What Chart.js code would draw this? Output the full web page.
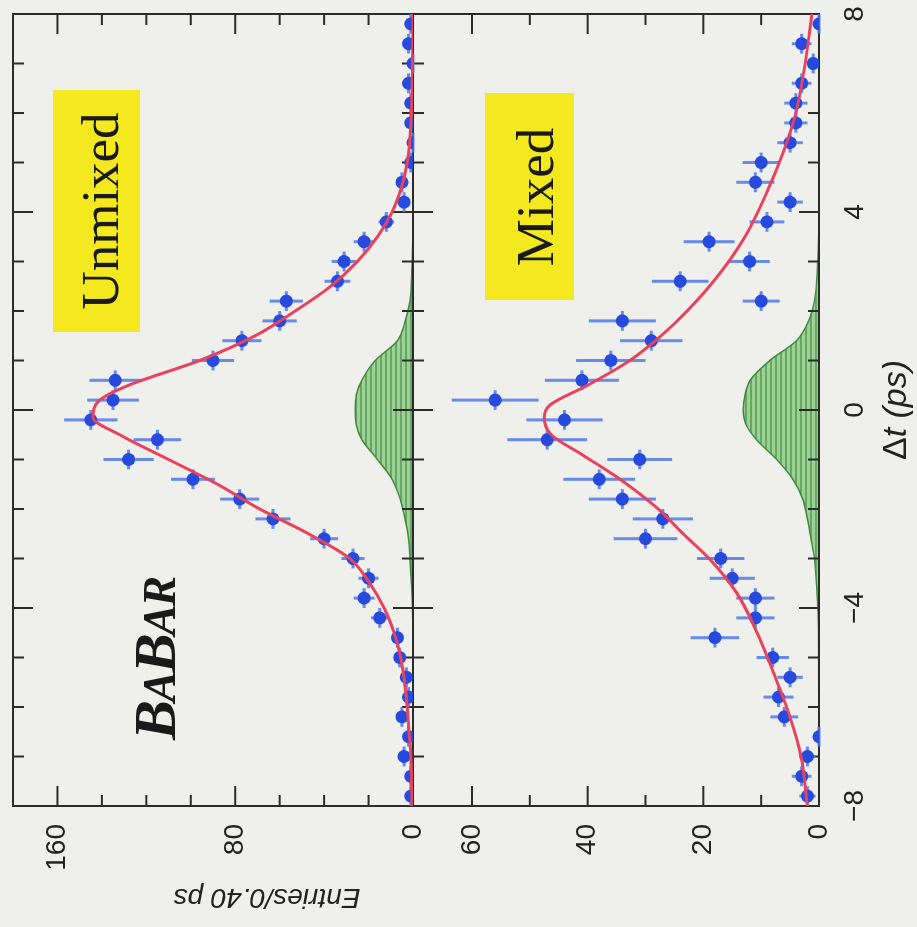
<!DOCTYPE html>
<html>
<head>
<meta charset="utf-8">
<script src="https://cdn.jsdelivr.net/npm/chart.js@4"></script>
<style>
  html, body { margin: 0; padding: 0; background: #efefeb; overflow: hidden; }
  /* the figure is drawn upright and then turned a quarter turn, like the scan */
  #wrap { position: absolute; left: 0; top: 0; width: 927px; height: 917px;
          transform-origin: 0 0; transform: translate(0, 927px) rotate(-90deg); }
</style>
</head>
<body>
<div id="wrap"><canvas id="c" width="927" height="917"></canvas></div>
<script>
// Δt bin centres (0.40 ps bins)
const dtBins = [-7.8, -7.4, -7.0, -6.6, -6.2, -5.8, -5.4, -5.0, -4.6, -4.2,
                -3.8, -3.4, -3.0, -2.6, -2.2, -1.8, -1.4, -1.0, -0.6, -0.2,
                 0.2,  0.6,  1.0,  1.4,  1.8,  2.2,  2.6,  3.0,  3.4,  3.8,
                 4.2,  4.6,  5.0,  5.4,  5.8,  6.2,  6.6,  7.0,  7.4,  7.8];

// unmixed events per bin and errors
const unmixedCounts = [1, 1, 4, 2, 5, 2, 3, 6, 7, 15,
                       22, 20, 27, 40, 63, 78, 99, 128, 115, 145,
                       135, 134, 90, 77, 60, 57, 34, 31, 22, 12,
                       4, 5, 1, 0, 1, 1, 2, 0, 2, 1];
const unmixedErr = [1, 1, 2, 1.4, 2.2, 1.4, 1.7, 2.4, 2.6, 3.9,
                    4.7, 4.5, 5.2, 6.3, 7.9, 8.8, 9.9, 11.3, 10.7, 12,
                    11.6, 11.6, 9.5, 8.8, 7.7, 7.5, 5.8, 5.6, 4.7, 3.5,
                    2, 2.2, 1, 0, 1, 1, 1.4, 0, 1.4, 1];

// mixed events per bin and errors
const mixedCounts = [2, 3, 2, 0, 6, 7, 5, 8, 18, 11,
                     11, 15, 17, 30, 27, 34, 38, 31, 47, 44,
                     56, 41, 36, 29, 34, 10, 24, 12, 19, 9,
                     5, 11, 10, 5, 4, 4, 3, 1, 3, 0];
const mixedErr = [1.4, 1.7, 1.4, 0, 2.4, 2.6, 2.2, 2.8, 4.2, 3.3,
                  3.3, 3.9, 4.1, 5.5, 5.2, 5.8, 6.2, 5.6, 6.9, 6.6,
                  7.5, 6.4, 6, 5.4, 5.8, 3.2, 4.9, 3.5, 4.4, 3,
                  2.2, 3.3, 3.2, 2.2, 2, 2, 1.7, 1, 1.7, 0];

// fit curves (red)
const fitDtUp = [-8, -7, -6.5, -6, -5.5, -5, -4.5, -4, -3.5, -3, -2.5, -2, -1.5, -1, -0.5, -0.15,
                 0.2, 0.5, 1, 1.5, 2, 2.5, 3, 3.5, 4, 4.5, 5, 5.5, 6, 7, 8];
const fitUp = [0.4, 1, 1.8, 2.6, 3.8, 5.5, 8.5, 13, 19.5, 28.5, 47, 69, 88, 110, 132, 144,
               141, 128, 96, 71, 53, 37, 25, 16, 9.4, 5.2, 2.6, 1.3, 0.7, 0.2, 0];
const fitDtLow = [-8, -7, -6, -5.3, -4.5, -3.7, -3, -2.5, -2, -1.35, -0.9, -0.5, -0.15,
                  0.1, 0.5, 1, 1.5, 2, 2.75, 3.5, 4.4, 5.2, 6, 7, 8];
const fitLow = [2, 3.1, 5.6, 7.9, 10.7, 14.2, 19, 23.5, 27.8, 35, 41, 46.3, 47.5,
                46.5, 40, 32.7, 27.3, 22.8, 17.2, 12.8, 9, 6.2, 4, 2.4, 1.2];

// background component (green)
const bgDt = [-8, -4.4, -3.6, -3.0, -2.6, -2.2, -1.8, -1.4, -1.0, -0.6, -0.3, 0,
              0.3, 0.6, 1.0, 1.4, 1.8, 2.2, 2.8, 3.6, 8];
const bgUp = [0, 0.1, 0.6, 1.3, 2.0, 3.6, 5.8, 9.4, 16, 23, 25.5, 26,
              25.5, 23, 17, 7, 3.5, 1.4, 0.6, 0.1, 0];
const bgLow = [0, 0.1, 0.4, 0.8, 1.4, 2.0, 2.8, 4.5, 7.3, 10.8, 12.6, 13.1,
               12.8, 11.9, 8.5, 3.9, 1.8, 0.8, 0.3, 0.05, 0];

// axis ticks with labels
const dtLabels = [-8, -4, 0, 4, 8];
const upLabels = [0, 80, 160];
const lowLabels = [0, 20, 40, 60];
const BIN_HALF = 0.2;

const pts = (xs, ys) => xs.map((x, i) => ({ x: x, y: ys[i] }));

// striped green fill
function stripes() {
  const p = document.createElement('canvas');
  p.width = 8; p.height = 5;
  const g = p.getContext('2d');
  g.fillStyle = '#9dd197'; g.fillRect(0, 0, 8, 5);
  g.fillStyle = '#66a862'; g.fillRect(0, 0, 8, 2);
  return document.getElementById('c').getContext('2d').createPattern(p, 'repeat');
}
const greenFill = stripes();

const serif = "'Liberation Serif', 'DejaVu Serif', serif";
const sans = "'Liberation Sans', Arial, sans-serif";

function line(ctx, x1, y1, x2, y2) {
  ctx.beginPath(); ctx.moveTo(x1, y1); ctx.lineTo(x2, y2); ctx.stroke();
}

function drawFrame(chart) {
  const ctx = chart.ctx, a = chart.chartArea;
  const x = chart.scales.x, yu = chart.scales.yUp, yl = chart.scales.yLow;
  const mid = yu.bottom;
  ctx.save();
  ctx.strokeStyle = '#2b2b2b';
  ctx.lineWidth = 2;
  ctx.strokeRect(a.left, a.top, a.width, a.height);
  line(ctx, a.left, mid, a.right, mid);
  for (let v = -7; v <= 7; v++) {
    const px = x.getPixelForValue(v), L = v % 4 === 0 ? 20 : 11;
    line(ctx, px, a.top, px, a.top + L);
    line(ctx, px, mid - L, px, mid + L);
    line(ctx, px, a.bottom, px, a.bottom - L);
  }
  for (let v = 20; v <= 160; v += 20) {
    const py = yu.getPixelForValue(v), L = v % 80 === 0 ? 20 : 11;
    line(ctx, a.left, py, a.left + L, py);
    line(ctx, a.right, py, a.right - L, py);
  }
  for (let v = 10; v <= 60; v += 10) {
    const py = yl.getPixelForValue(v), L = v % 20 === 0 ? 20 : 11;
    line(ctx, a.left, py, a.left + L, py);
    line(ctx, a.right, py, a.right - L, py);
  }
  ctx.restore();
}

function drawErrors(chart, ds) {
  const ctx = chart.ctx, x = chart.scales.x, y = chart.scales[ds.yAxisID];
  ctx.save();
  ctx.strokeStyle = 'rgba(80,120,232,0.85)';
  ctx.lineWidth = 3;
  ds.data.forEach((p, i) => {
    const e = ds.errs[i];
    const px = x.getPixelForValue(p.x), py = y.getPixelForValue(p.y);
    if (e > 0) line(ctx, px, y.getPixelForValue(Math.max(0, p.y - e)), px, y.getPixelForValue(p.y + e));
    line(ctx, x.getPixelForValue(p.x - BIN_HALF), py, x.getPixelForValue(p.x + BIN_HALF), py);
  });
  ctx.restore();
}

const decor = {
  id: 'decor',
  beforeDraw(chart) { chart.$frameDone = false; },
  beforeDatasetsDraw(chart) {
    const ctx = chart.ctx;
    ctx.save();
    // yellow labels
    ctx.fillStyle = '#f4e91f';
    ctx.fillRect(595, 53, 242, 87);
    ctx.fillRect(627, 485, 207, 89);
    ctx.fillStyle = '#1a1a1a';
    ctx.textAlign = 'center';
    ctx.textBaseline = 'alphabetic';
    ctx.font = '53px ' + serif;
    ctx.fillText('Unmixed', 716, 118);
    ctx.fillText('Mixed', 730, 553);
    // BaBar logo, small caps
    ctx.textAlign = 'left';
    let cx = 187;
    [['B', 60], ['A', 46], ['B', 60], ['A', 46], ['R', 46]].forEach(([ch, sz]) => {
      ctx.font = 'italic bold ' + sz + 'px ' + serif;
      ctx.fillText(ch, cx, 175);
      cx += ctx.measureText(ch).width - 2;
    });
    ctx.restore();
  },
  beforeDatasetDraw(chart, args) {
    const ds = chart.data.datasets[args.index];
    if (ds.errs) {
      if (!chart.$frameDone) { drawFrame(chart); chart.$frameDone = true; }
      drawErrors(chart, ds);
    }
  },
  afterDraw(chart) {
    const ctx = chart.ctx, a = chart.chartArea;
    ctx.save();
    ctx.fillStyle = '#222';
    // y title
    ctx.translate(38, 267);
    ctx.rotate(-Math.PI / 2);
    ctx.textAlign = 'center';
    ctx.font = 'italic 28px ' + sans;
    ctx.fillText('Entries/0.40 ps', 0, 0);
    ctx.restore();
    // x title: upright delta, italic rest
    ctx.save();
    ctx.fillStyle = '#222';
    ctx.textBaseline = 'alphabetic';
    const f1 = '34px ' + sans, f2 = 'italic 34px ' + sans;
    ctx.font = f1; const w1 = ctx.measureText('\u0394').width;
    ctx.font = f2; const w2 = ctx.measureText('t (ps)').width;
    let sx = (a.left + a.right) / 2 - (w1 + w2) / 2;
    ctx.font = f1; ctx.fillText('\u0394', sx, 906);
    ctx.font = f2; ctx.fillText('t (ps)', sx + w1, 906);
    ctx.restore();
  }
};

const tickFont = { family: sans, size: 28 };

// fixed axis boxes so the plot frame lands where the scan has it
function fixY(s) { s.width = 121; s.paddingTop = 0; s.paddingBottom = 0; }
function fixX(s) { s.height = 98; s.paddingLeft = 0; s.paddingRight = 0; }

new Chart(document.getElementById('c'), {
  type: 'scatter',
  data: {
    datasets: [
      { label: 'bg unmixed', data: pts(bgDt, bgUp), yAxisID: 'yUp', showLine: true,
        cubicInterpolationMode: 'monotone', pointRadius: 0, borderColor: '#3d8a3d', borderWidth: 1.5,
        backgroundColor: greenFill, fill: 'origin', order: 3 },
      { label: 'bg mixed', data: pts(bgDt, bgLow), yAxisID: 'yLow', showLine: true,
        cubicInterpolationMode: 'monotone', pointRadius: 0, borderColor: '#3d8a3d', borderWidth: 1.5,
        backgroundColor: greenFill, fill: 'origin', order: 3 },
      { label: 'unmixed', data: pts(dtBins, unmixedCounts), errs: unmixedErr, yAxisID: 'yUp',
        pointRadius: 6.5, pointBorderWidth: 0, backgroundColor: '#2649de', order: 1 },
      { label: 'mixed', data: pts(dtBins, mixedCounts), errs: mixedErr, yAxisID: 'yLow',
        pointRadius: 6.5, pointBorderWidth: 0, backgroundColor: '#2649de', order: 1 },
      { label: 'fit unmixed', data: pts(fitDtUp, fitUp), yAxisID: 'yUp', showLine: true,
        cubicInterpolationMode: 'monotone', pointRadius: 0, borderColor: '#e8435c', borderWidth: 3,
        fill: false, order: 0 },
      { label: 'fit mixed', data: pts(fitDtLow, fitLow), yAxisID: 'yLow', showLine: true,
        cubicInterpolationMode: 'monotone', pointRadius: 0, borderColor: '#e8435c', borderWidth: 3,
        fill: false, order: 0 }
    ]
  },
  options: {
    responsive: false,
    animation: false,
    layout: { padding: { top: 13, right: 14, left: 0, bottom: 0 } },
    plugins: { legend: { display: false }, tooltip: { enabled: false } },
    scales: {
      x: {
        type: 'linear', position: 'bottom', min: -8, max: 8,
        grid: { display: false }, border: { display: false },
        ticks: { stepSize: 4, autoSkip: false, maxRotation: 0, padding: 11, color: '#222', font: tickFont,
                 callback: v => dtLabels.includes(v) ? (v < 0 ? '\u2212' + Math.abs(v) : String(v)) : null },
        afterFit: fixX
      },
      yLow: {
        type: 'linear', position: 'left', stack: 'panels', stackWeight: 406, min: 0, max: 70.2,
        grid: { display: false }, border: { display: false },
        ticks: { stepSize: 10, autoSkip: false, padding: 10, color: '#222', font: tickFont,
                 callback: v => lowLabels.includes(v) ? String(v) : null },
        afterFit: fixY
      },
      yUp: {
        type: 'linear', position: 'left', stack: 'panels', stackWeight: 400, min: 0, max: 180,
        grid: { display: false }, border: { display: false },
        ticks: { stepSize: 20, autoSkip: false, padding: 10, color: '#222', font: tickFont,
                 callback: v => upLabels.includes(v) ? String(v) : null },
        afterFit: fixY
      }
    }
  },
  plugins: [decor]
});
</script>
</body>
</html>
